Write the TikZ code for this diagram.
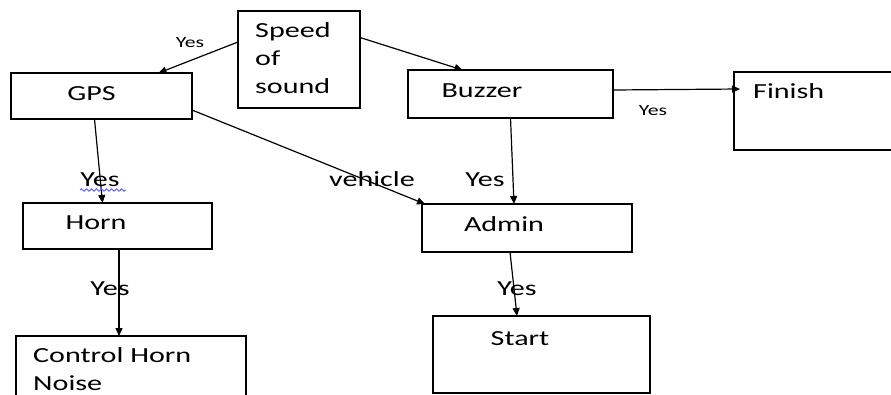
\documentclass[tikz,border=0pt]{standalone}
\usepackage{fontspec}
\setmainfont[FakeStretch=1.4]{Carlito}
\usetikzlibrary{arrows.meta,decorations.pathmorphing}

\tikzset{
  box/.style={draw, line width=1.2pt, inner sep=0pt, outer sep=0pt},
  txt/.style={inner sep=0pt, anchor=base, font=\fontsize{21.5}{28}\selectfont},
  small/.style={inner sep=0pt, anchor=base, font=\fontsize{15.5}{18}\selectfont},
  arr/.style={line width=1.2pt, -{Triangle[length=8pt,width=7pt]}}
}

\begin{document}
\begin{tikzpicture}[x=1pt, y=-1pt]
    \clip (0,0) rectangle (891,394);

    % boxes
    \node[box, minimum width=122pt, minimum height=97pt] (speed)  at (299,59.5)  {};
    \node[box, minimum width=181pt, minimum height=46pt] (gps)    at (101.5,96)  {};
    \node[box, minimum width=205pt, minimum height=48pt] (buzzer) at (510.5,94)  {};
    \node[box, minimum width=220pt, minimum height=78pt] (finish) at (844,111)   {};
    \node[box, minimum width=189pt, minimum height=46pt] (horn)   at (117.5,226) {};
    \node[box, minimum width=210pt, minimum height=48pt] (admin)  at (527,228)   {};
    \node[box, minimum width=230pt, minimum height=84pt] (ctrl)   at (131,378)   {};
    \node[box, minimum width=217pt, minimum height=77pt] (start)  at (541.5,354.5) {};

    % box texts
    \node[txt, anchor=base west, align=left] (speedtxt) at (255,93) {Speed\\of\\sound};
    \node[txt] (gpstxt)    at (91.5,100) {GPS};
    \node[txt] (buzzertxt) at (482,97)   {Buzzer};
    \node[txt, anchor=base west] (finishtxt) at (753,98) {Finish};
    \node[txt] (horntxt)   at (96,229)   {Horn};
    \node[txt] (admintxt)  at (504,231)  {Admin};
    \node[txt] (starttxt)  at (520,345)  {Start};
    \node[txt, anchor=base west, align=left] (ctrltxt) at (33,390) {Control Horn\\Noise};

    % arrows
    \draw[arr] ([yshift=17.5pt]speed.west) -- ([xshift=57pt]gps.north);
    \draw[arr] ([yshift=22pt]speed.east) -- ([xshift=-48pt]buzzer.north);
    \draw[arr] ([xshift=-7pt]gps.south) -- ([xshift=-15pt]horn.north);
    \draw[arr] ([yshift=-14pt]gps.east) -- ([xshift=3pt]admin.north west);
    \draw[arr] (buzzer.south) -- ([xshift=-13pt]admin.north);
    \draw[arr] ([yshift=4pt]buzzer.east) -- ([xshift=6pt,yshift=22pt]finish.west);
    \draw[arr] ([xshift=1.5pt]horn.south) -- ([xshift=-12pt]ctrl.north);
    \draw[arr] ([xshift=-17pt]admin.south) -- ([xshift=-24.5pt]start.north);

    % arrow labels
    \node[small] (yes1) at (190,47)  {Yes};
    \node[small] (yes2) at (653,115) {Yes};
    \node[txt]   (yes3) at (100,186) {Yes};
    \node[txt]   (veh)  at (372,186) {vehicle};
    \node[txt]   (yes4) at (485,186) {Yes};
    \node[txt]   (yes5) at (110,295) {Yes};
    \node[txt]   (yes6) at (517,295) {Yes};
    \draw[blue!60, line width=1pt, decorate, decoration={snake, amplitude=1.2pt, segment length=5pt}]
        (80,190) -- (126,190);
\end{tikzpicture}
\end{document}
